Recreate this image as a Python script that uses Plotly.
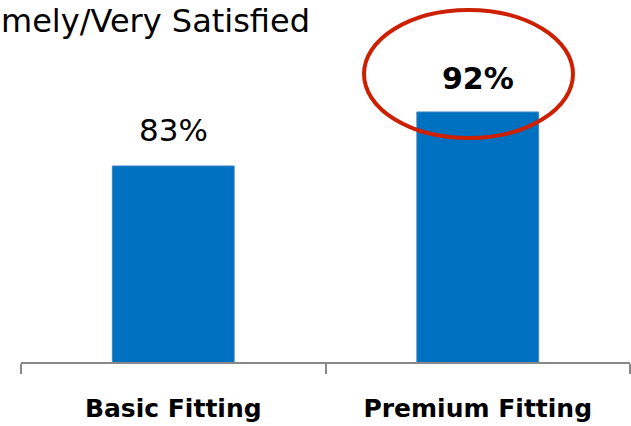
import plotly.graph_objects as go

categories = ["Basic Fitting", "Premium Fitting"]
values = [83, 92]
label_bold = [False, True]
title_text = "mely/Very Satisfied"

W, H = 631, 426
ml, mr, mt, mb = 21, 1, 62, 64
y_range = [50.33, 100.33]

fig = go.Figure()
fig.add_trace(go.Bar(
    x=categories, y=values,
    marker=dict(color="#0070C0", line=dict(color="#3f86c4", width=1)),
    hoverinfo="skip",
))

for c, v, b in zip(categories, values, label_bold):
    fig.add_annotation(
        x=c, y=v, xref="x", yref="y",
        text=f"{v}%", showarrow=False,
        yanchor="bottom", yshift=14 if b else 16,
        font=dict(family="DejaVu Sans", size=30 if b else 31,
                  color="black", weight="bold" if b else "normal"),
    )

pw, ph = W - ml - mr, H - mt - mb
def px(x): return (x - ml) / pw
def py(y): return (H - mb - y) / ph

# title (the reference shows only this visible part)
fig.add_annotation(
    xref="paper", yref="paper",
    x=px(-1), y=py(0),
    xanchor="left", yanchor="top",
    text=title_text, showarrow=False,
    font=dict(family="DejaVu Sans", size=32, color="black"),
)

# red highlight ellipse around the premium value
fig.add_shape(
    type="circle", xref="paper", yref="paper",
    x0=px(364), x1=px(573), y0=py(138), y1=py(10),
    line=dict(color="#CC2000", width=4), fillcolor="rgba(0,0,0,0)",
)

fig.update_layout(
    width=W, height=H,
    margin=dict(l=ml, r=mr, t=mt, b=mb, pad=0),
    plot_bgcolor="white", paper_bgcolor="white",
    bargap=0.6, showlegend=False,
    xaxis=dict(
        type="category", tickson="boundaries",
        showline=True, linecolor="#888888", linewidth=2,
        ticks="outside", ticklen=10, tickcolor="#888888", tickwidth=2,
        tickfont=dict(family="DejaVu Sans", size=25, color="black", weight="bold"),
        ticklabelstandoff=23,
        showgrid=False, zeroline=False,
    ),
    yaxis=dict(range=y_range, visible=False, showgrid=False, zeroline=False),
)

fig.write_html("out.html")
